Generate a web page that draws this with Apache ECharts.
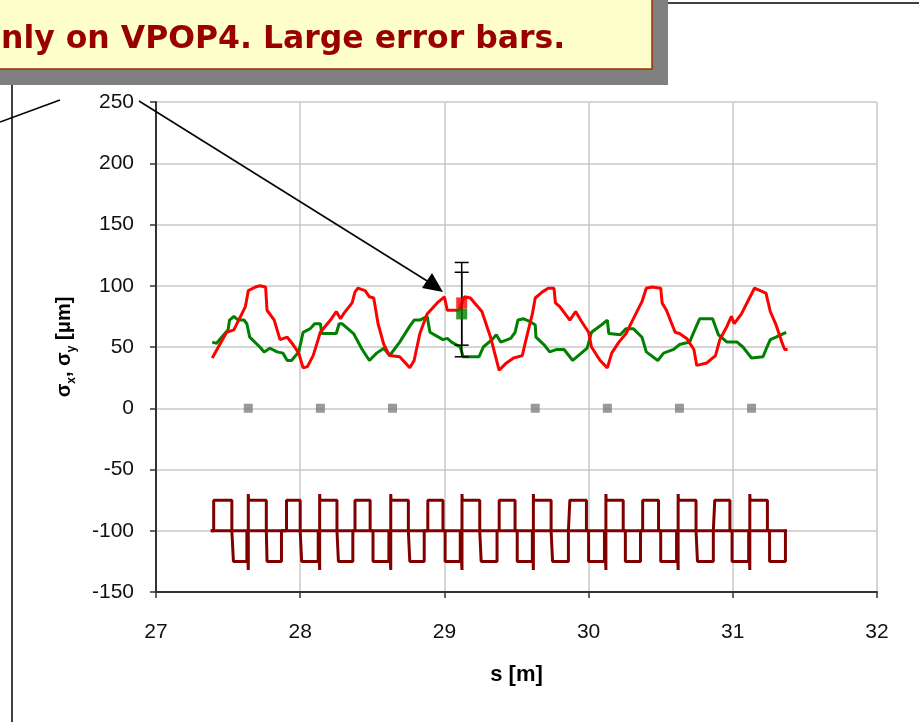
<!DOCTYPE html>
<html>
<head>
<meta charset="utf-8">
<script src="https://cdn.jsdelivr.net/npm/echarts@6/dist/echarts.min.js"></script>
<style>
  html, body { margin: 0; padding: 0; background: #fff; }
  #chart { width: 919px; height: 722px; }
</style>
</head>
<body>
<div id="chart"></div>
<script>
// red beam size trace, [s, value]
const sigmaX = [
  [27.39, 41], [27.49, 62], [27.54, 64], [27.62, 83], [27.64, 96], [27.69, 99], [27.72, 100], [27.76, 99],
  [27.77, 80], [27.82, 72], [27.86, 56], [27.91, 58], [27.95, 52], [27.99, 45], [28.02, 33], [28.05, 34],
  [28.09, 43], [28.14, 62], [28.21, 72], [28.25, 79], [28.28, 73], [28.30, 77], [28.36, 86], [28.38, 95],
  [28.40, 98], [28.45, 96], [28.48, 91], [28.51, 90], [28.54, 69], [28.58, 52], [28.62, 43], [28.69, 42],
  [28.76, 33], [28.79, 39], [28.83, 61], [28.88, 77], [28.95, 86], [29.00, 91], [29.02, 80], [29.10, 80],
  [29.14, 91], [29.18, 90], [29.26, 79], [29.32, 58], [29.38, 31], [29.43, 37], [29.48, 41], [29.54, 43],
  [29.57, 58], [29.61, 77], [29.63, 90], [29.68, 95], [29.72, 98], [29.76, 98], [29.77, 86], [29.80, 83],
  [29.87, 72], [29.91, 79], [29.95, 71], [30.00, 62], [30.02, 50], [30.08, 39], [30.13, 33], [30.16, 45],
  [30.21, 54], [30.26, 61], [30.31, 73], [30.37, 87], [30.40, 98], [30.44, 99], [30.50, 98], [30.51, 86],
  [30.54, 80], [30.60, 62], [30.63, 61], [30.68, 57], [30.73, 48], [30.75, 35], [30.82, 37], [30.88, 43],
  [30.91, 56], [30.96, 67], [30.99, 75], [31.01, 69], [31.06, 77], [31.12, 91], [31.15, 98], [31.21, 95],
  [31.23, 94], [31.26, 79], [31.30, 68], [31.34, 54], [31.36, 48], [31.38, 48]
];

// green beam size trace
const sigmaY = [
  [27.39, 54], [27.42, 53], [27.47, 60], [27.50, 64], [27.51, 72], [27.54, 75], [27.57, 72], [27.61, 72],
  [27.63, 69], [27.65, 58], [27.72, 50], [27.75, 46], [27.79, 49], [27.84, 46], [27.88, 45], [27.91, 39],
  [27.94, 39], [27.99, 46], [28.02, 62], [28.07, 65], [28.10, 69], [28.14, 69], [28.15, 61], [28.25, 61],
  [28.27, 69], [28.29, 69], [28.37, 61], [28.43, 48], [28.48, 39], [28.53, 45], [28.58, 49], [28.62, 43],
  [28.69, 54], [28.76, 67], [28.79, 72], [28.83, 72], [28.88, 75], [28.90, 62], [28.99, 56], [29.02, 57],
  [29.05, 54], [29.11, 50], [29.13, 42], [29.24, 42], [29.27, 50], [29.33, 56], [29.36, 60], [29.39, 54],
  [29.46, 57], [29.49, 62], [29.51, 72], [29.55, 73], [29.59, 71], [29.63, 68], [29.635, 58], [29.69, 52],
  [29.73, 46], [29.78, 48], [29.83, 48], [29.89, 39], [29.99, 49], [30.02, 62], [30.10, 69], [30.13, 72],
  [30.14, 61], [30.22, 60], [30.26, 65], [30.31, 65], [30.37, 58], [30.40, 46], [30.48, 39], [30.52, 45],
  [30.59, 48], [30.63, 52], [30.70, 54], [30.74, 65], [30.77, 73], [30.86, 73], [30.90, 60], [30.96, 54],
  [31.03, 54], [31.07, 50], [31.13, 41], [31.21, 42], [31.23, 48], [31.26, 56], [31.30, 58], [31.37, 62]
];

// magnet lattice (square wave round -100)
const quadProfile = [
  [27.38, -100],
  [27.40, -100], [27.40, -75], [27.526, -75], [27.526, -100],
  [27.537, -100], [27.537, -125], [27.63, -125], [27.63, -100],
  [27.64, -100], [27.64, -132], [27.64, -70], [27.642, -75], [27.765, -75], [27.765, -100],
  [27.77, -100], [27.77, -125], [27.87, -125], [27.87, -100],
  [27.905, -100], [27.905, -75], [28.0, -75], [28.0, -100],
  [28.01, -100], [28.01, -125], [28.125, -125], [28.125, -100],
  [28.135, -100], [28.135, -132], [28.135, -70], [28.137, -75], [28.255, -75], [28.255, -100],
  [28.265, -100], [28.265, -125], [28.365, -125], [28.365, -100],
  [28.38, -100], [28.38, -75], [28.485, -75], [28.485, -100],
  [28.505, -100], [28.505, -125], [28.615, -125], [28.615, -100],
  [28.628, -100], [28.628, -132], [28.628, -70], [28.63, -75], [28.75, -75], [28.75, -100],
  [28.76, -100], [28.76, -125], [28.86, -125], [28.86, -100],
  [28.885, -100], [28.885, -75], [28.99, -75], [28.99, -100],
  [29.005, -100], [29.005, -125], [29.11, -125], [29.11, -100],
  [29.122, -100], [29.122, -132], [29.122, -70], [29.124, -75], [29.245, -75], [29.245, -100],
  [29.255, -100], [29.255, -125], [29.365, -125], [29.365, -100],
  [29.38, -100], [29.38, -75], [29.49, -75], [29.49, -100],
  [29.505, -100], [29.505, -125], [29.61, -125], [29.61, -100],
  [29.617, -100], [29.617, -132], [29.617, -70], [29.619, -75], [29.74, -75], [29.74, -100],
  [29.75, -100], [29.75, -125], [29.86, -125], [29.86, -100],
  [29.87, -100], [29.87, -75], [29.985, -75], [29.985, -100],
  [30.0, -100], [30.0, -125], [30.11, -125], [30.11, -100],
  [30.12, -100], [30.12, -132], [30.12, -70], [30.122, -75], [30.24, -75], [30.24, -100],
  [30.255, -100], [30.255, -125], [30.36, -125], [30.36, -100],
  [30.375, -100], [30.375, -75], [30.485, -75], [30.485, -100],
  [30.5, -100], [30.5, -125], [30.61, -125], [30.61, -100],
  [30.621, -100], [30.621, -132], [30.621, -70], [30.623, -75], [30.745, -75], [30.745, -100],
  [30.755, -100], [30.755, -125], [30.865, -125], [30.865, -100],
  [30.875, -100], [30.875, -75], [30.98, -75], [30.98, -100],
  [30.995, -100], [30.995, -125], [31.11, -125], [31.11, -100],
  [31.118, -100], [31.118, -132], [31.118, -70], [31.12, -75], [31.24, -75], [31.24, -100],
  [31.255, -100], [31.255, -125], [31.365, -125], [31.365, -100],
  [31.375, -100]
];

// lattice reference line
const latticeAxis = [[27.38, -100], [31.375, -100]];

// monitor positions (grey markers at 0)
const monitorS = [27.64, 28.14, 28.64, 29.63, 30.13, 30.63, 31.13];

// VPOP4 measurement: [s, value, low, high]
const vpop4X = [29.12, 86, 51.5, 119];
const vpop4Y = [29.12, 77, 42, 111];

const FONT = "Liberation Sans, Arial, sans-serif";

let chart = echarts.init(document.getElementById("chart"));

function errorBar(params, api) {
  let s = api.value(0);
  let lo = api.coord([s, api.value(1)]);
  let hi = api.coord([s, api.value(2)]);
  let w = 7;
  let st = { stroke: "#000", lineWidth: 1.5 };
  return {
    type: "group",
    children: [
      { type: "line", shape: { x1: lo[0], y1: lo[1], x2: hi[0], y2: hi[1] }, style: st },
      { type: "line", shape: { x1: lo[0] - w, y1: lo[1], x2: lo[0] + w, y2: lo[1] }, style: st },
      { type: "line", shape: { x1: hi[0] - w, y1: hi[1], x2: hi[0] + w, y2: hi[1] }, style: st },
    ],
  };
}

let options = {
  animation: false,
  backgroundColor: "#fff",
  grid: {
    left: 156,
    right: 42,
    top: 102,
    bottom: 130,
    outerBoundsMode: "none",
  },
  xAxis: {
    type: "value",
    min: 27,
    max: 32,
    interval: 1,
    name: "s [m]",
    nameLocation: "middle",
    nameGap: 72,
    nameTextStyle: { fontFamily: FONT, fontWeight: "bold", fontSize: 22, color: "#000" },
    axisLine: { onZero: false, lineStyle: { color: "#333", width: 2 } },
    axisTick: { length: 6, lineStyle: { color: "#333", width: 1.5 } },
    axisLabel: { fontFamily: FONT, fontSize: 21, color: "#111", margin: 30 },
    splitLine: { show: true, lineStyle: { color: "#c8c8c8", width: 1.5 } },
  },
  yAxis: {
    type: "value",
    min: -150,
    max: 250,
    interval: 50,
    name: "{g|σ}{s|x}{g|, σ}{s|y}{g| [μm]}",
    nameLocation: "middle",
    nameRotate: 90,
    nameGap: 78,
    nameTextStyle: {
      fontFamily: FONT,
      fontWeight: "bold",
      fontSize: 20,
      color: "#000",
      rich: {
        g: { fontFamily: FONT, fontWeight: "bold", fontSize: 20, color: "#000", verticalAlign: "bottom", padding: [0, 0, 4, 0] },
        s: { fontFamily: FONT, fontWeight: "bold", fontSize: 12, color: "#000", verticalAlign: "bottom" },
      },
    },
    axisLine: { onZero: false, lineStyle: { color: "#333", width: 2 } },
    axisTick: { length: 6, lineStyle: { color: "#333", width: 1.5 } },
    axisLabel: { fontFamily: FONT, fontSize: 21, color: "#111", margin: 22 },
    splitLine: { show: true, lineStyle: { color: "#c8c8c8", width: 1.5 } },
  },
  series: [
    {
      name: "lattice axis",
      type: "line",
      data: latticeAxis,
      showSymbol: false,
      lineStyle: { color: "#800000", width: 3 },
      z: 2,
    },
    {
      name: "lattice",
      type: "line",
      data: quadProfile,
      showSymbol: false,
      lineStyle: { color: "#800000", width: 3 },
      z: 2,
    },
    {
      name: "monitors",
      type: "scatter",
      data: monitorS.map((s) => [s, 0]),
      symbol: "rect",
      symbolSize: 9,
      itemStyle: { color: "#808080" },
      z: 2,
    },
    {
      name: "sigma y",
      type: "line",
      data: sigmaY,
      showSymbol: false,
      lineStyle: { color: "#008000", width: 3 },
      z: 3,
    },
    {
      name: "sigma x",
      type: "line",
      data: sigmaX,
      showSymbol: false,
      lineStyle: { color: "#ff0000", width: 3 },
      z: 4,
    },
    {
      name: "error bars",
      type: "custom",
      renderItem: errorBar,
      data: [
        [vpop4X[0], vpop4X[2], vpop4X[3]],
        [vpop4Y[0], vpop4Y[2], vpop4Y[3]],
      ],
      encode: { x: 0, y: [1, 2] },
      z: 5,
    },
    {
      name: "VPOP4 y",
      type: "scatter",
      data: [[vpop4Y[0], vpop4Y[1]]],
      symbol: "rect",
      symbolSize: 11,
      itemStyle: { color: "#008000" },
      z: 6,
    },
    {
      name: "VPOP4 x",
      type: "scatter",
      data: [[vpop4X[0], vpop4X[1]]],
      symbol: "rect",
      symbolSize: 11,
      itemStyle: { color: "#ff0000" },
      z: 7,
    },
  ],
  graphic: [
    // frame lines round the slide
    { type: "line", shape: { x1: 12, y1: 85, x2: 12, y2: 722 }, style: { stroke: "#000", lineWidth: 1.5 }, z: 10 },
    { type: "line", shape: { x1: 0, y1: 122, x2: 60, y2: 100 }, style: { stroke: "#000", lineWidth: 1.5 }, z: 10 },
    { type: "line", shape: { x1: 668, y1: 3, x2: 919, y2: 3 }, style: { stroke: "#000", lineWidth: 1.5 }, z: 10 },
    // callout box
    { type: "rect", shape: { x: -20, y: -20, width: 688, height: 105 }, style: { fill: "#808080" }, z: 10 },
    { type: "rect", shape: { x: -20, y: -20, width: 672, height: 89 }, style: { fill: "#ffffcc", stroke: "#993300", lineWidth: 1.5 }, z: 11 },
    {
      type: "text",
      x: 1,
      y: 40,
      z: 12,
      style: {
        text: "nly on VPOP4. Large error bars.",
        font: "bold 31.5px DejaVu Sans, sans-serif",
        fill: "#990000",
        verticalAlign: "middle",
      },
    },
    // arrow from the callout to the VPOP4 point
    { type: "line", shape: { x1: 139, y1: 101, x2: 432, y2: 284 }, style: { stroke: "#000", lineWidth: 1.5 }, z: 12 },
    { type: "polygon", shape: { points: [[443, 292], [422, 288], [432, 273]] }, style: { fill: "#000" }, z: 12 },
  ],
};

chart.setOption(options, true);
</script>
</body>
</html>
